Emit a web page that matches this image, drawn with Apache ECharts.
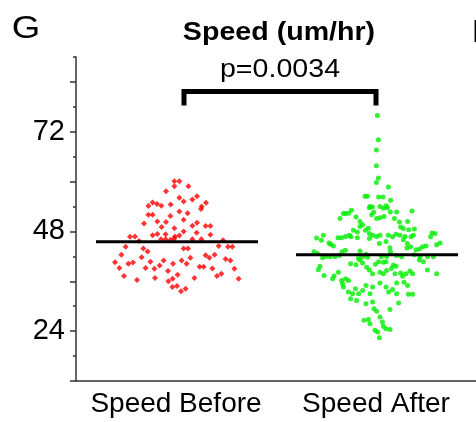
<!DOCTYPE html>
<html><head><meta charset="utf-8">
<script src="https://cdn.jsdelivr.net/npm/echarts@6/dist/echarts.min.js"></script>
<style>html,body{margin:0;padding:0;background:#fff;overflow:hidden}#c{width:476px;height:422px}</style>
</head><body><div id="c"></div>
<script>
// ---- data ----
const categories = ['Speed Before', 'Speed After'];
const chartTitle = 'Speed (um/hr)';
const pValueText = 'p=0.0034';
const panelLetter = 'G';
const yTickLabels = [24, 48, 72];
const yMajorTicks = [12, 24, 36, 48, 60, 72, 84];
const yMinorTicks = [18, 30, 42, 54, 66, 78, 90];
const meanValues = [45.5, 42.4];
// jitter position on a hidden 0..2 axis (category centres at 0.5 and 1.5)
const beforeX = [0.492,0.517,0.492,0.562,0.450,0.517,0.538,0.582,0.605,0.362,0.383,0.405,0.427,0.473,0.650,0.628,0.625,0.362,0.383,0.472,0.517,0.558,0.407,0.450,0.340,0.428,0.538,0.605,0.582,0.648,0.672,0.492,0.407,0.383,0.448,0.495,0.517,0.538,0.603,0.672,0.270,0.295,0.315,0.425,0.448,0.473,0.492,0.582,0.627,0.735,0.248,0.337,0.358,0.538,0.560,0.713,0.760,0.782,0.227,0.328,0.372,0.438,0.528,0.572,0.648,0.667,0.693,0.748,0.772,0.195,0.262,0.285,0.418,0.485,0.553,0.618,0.638,0.217,0.348,0.392,0.682,0.792,0.460,0.508,0.240,0.483,0.462,0.592,0.705,0.727,0.813,0.305,0.395,0.482,0.505,0.548,0.525];
const beforeY = [60.1,60.1,58.9,58.9,57.7,56.1,55.2,55.7,56.5,54.1,55.0,54.6,54.2,54.5,54.9,54.0,53.4,52.0,52.0,51.7,52.8,52.4,50.4,50.3,49.9,49.1,50.8,50.1,49.4,49.3,49.3,48.8,47.4,47.1,47.3,46.8,47.0,48.0,47.7,47.2,46.7,46.8,45.7,46.1,46.1,46.0,46.3,46.1,46.1,45.9,44.3,43.9,43.2,43.9,43.9,44.5,44.3,44.3,42.4,41.8,40.7,41.0,41.0,41.7,42.3,41.7,42.4,41.4,41.0,40.6,40.2,40.5,39.8,40.2,40.2,39.5,39.5,39.2,39.2,39.0,39.1,39.0,38.5,37.6,37.3,36.6,36.0,36.8,37.3,37.8,36.6,36.3,36.8,34.6,34.9,34.2,33.6];
const afterX = [1.507,1.512,1.502,1.502,1.512,1.502,1.562,1.445,1.457,1.513,1.535,1.573,1.470,1.483,1.467,1.520,1.550,1.557,1.537,1.377,1.363,1.337,1.348,1.320,1.400,1.488,1.478,1.572,1.540,1.520,1.503,1.603,1.680,1.592,1.617,1.658,1.420,1.433,1.420,1.462,1.623,1.637,1.663,1.692,1.447,1.467,1.483,1.503,1.520,1.387,1.407,1.367,1.375,1.328,1.310,1.348,1.237,1.203,1.227,1.265,1.287,1.273,1.600,1.620,1.645,1.687,1.675,1.562,1.583,1.467,1.517,1.550,1.570,1.407,1.637,1.657,1.780,1.795,1.773,1.820,1.803,1.750,1.733,1.717,1.700,1.673,1.655,1.190,1.207,1.233,1.250,1.270,1.317,1.295,1.347,1.330,1.420,1.433,1.412,1.450,1.458,1.527,1.553,1.572,1.603,1.628,1.692,1.720,1.758,1.787,1.212,1.220,1.240,1.283,1.290,1.312,1.328,1.333,1.348,1.362,1.373,1.400,1.420,1.433,1.453,1.467,1.483,1.497,1.513,1.537,1.550,1.520,1.553,1.577,1.587,1.600,1.537,1.595,1.623,1.650,1.670,1.683,1.633,1.717,1.737,1.757,1.803,1.337,1.362,1.383,1.373,1.397,1.413,1.433,1.403,1.450,1.470,1.483,1.520,1.550,1.563,1.583,1.603,1.603,1.662,1.683,1.658,1.640,1.483,1.490,1.503,1.450,1.613,1.570,1.520,1.532,1.537,1.440,1.462,1.470,1.495,1.508,1.550,1.570,1.517];
const afterY = [75.9,70.1,67.6,63.8,60.9,59.8,58.7,56.5,56.5,56.3,56.3,55.5,54.0,53.9,53.7,54.0,54.2,53.7,53.6,53.1,52.4,52.3,52.3,51.1,51.5,52.6,52.0,52.7,51.6,51.3,51.1,52.7,52.9,51.1,50.3,50.4,50.4,49.6,49.2,48.8,49.1,48.7,48.4,48.6,48.3,47.5,47.1,46.8,47.1,48.3,47.9,47.1,46.7,46.5,46.5,46.8,47.1,46.4,45.9,45.2,44.5,44.9,47.3,47.1,46.8,47.1,46.7,47.1,46.7,46.3,45.1,45.6,44.1,46.5,46.0,45.1,47.6,47.5,46.7,45.2,44.8,44.5,44.3,43.8,43.6,44.3,44.0,43.1,42.7,41.7,42.0,41.9,42.2,41.9,43.5,43.1,43.3,41.9,41.5,42.5,41.8,41.9,42.0,43.1,42.2,41.9,42.4,41.9,41.9,41.9,38.8,39.6,37.4,36.6,37.3,38.2,36.2,35.4,36.6,36.2,40.2,40.0,41.1,40.4,39.4,38.7,37.8,40.1,40.7,40.6,40.7,38.2,38.6,39.1,39.9,39.6,37.8,37.8,38.0,37.8,38.5,37.8,37.2,41.1,40.7,38.7,37.8,34.6,33.4,33.0,31.8,34.2,33.0,33.8,31.4,35.0,33.0,34.6,35.6,34.6,33.4,34.0,33.0,35.6,32.9,32.9,35.0,35.8,31.0,29.4,28.8,30.6,30.8,29.2,27.4,26.2,25.2,26.6,26.8,25.8,24.2,23.8,24.6,24.4,22.4];

// ---- chart ----
const FONT = "'Liberation Sans', Arial, Helvetica, sans-serif";
const AX = '#333';
const chart = echarts.init(document.getElementById('c'), null, {renderer: 'canvas'});
const zip = (xs, ys) => xs.map((x, i) => [x, ys[i]]);

chart.setOption({
  animation: false,
  backgroundColor: '#fff',
  grid: {left: 76, top: 57, width: 400, bottom: 41, containLabel: false},
  xAxis: [{
    type: 'category', data: categories, boundaryGap: true,
    axisLine: {lineStyle: {color: AX, width: 1.5}},
    axisTick: {alignWithLabel: true, length: 5, lineStyle: {color: AX, width: 1.5}},
    axisLabel: {color: '#000', fontSize: 28, fontFamily: FONT, margin: 9, interval: 0, hideOverlap: false},
    splitLine: {show: false}
  }, {
    type: 'value', min: 0, max: 2, show: false
  }],
  yAxis: [{
    type: 'value', min: 12, max: 90, interval: 12, position: 'left',
    axisLine: {show: true, lineStyle: {color: AX, width: 1.5}},
    axisTick: {show: true, length: 6, customValues: yMajorTicks, lineStyle: {color: AX, width: 1.5}},
    axisLabel: {color: '#000', fontSize: 29, fontFamily: FONT, margin: 11,
      customValues: yTickLabels,
      formatter: v => (yTickLabels.indexOf(v) >= 0 ? String(v) : '')},
    splitLine: {show: false}
  }, {
    type: 'value', min: 12, max: 90, interval: 6, position: 'left', offset: 0,
    axisLine: {show: false},
    axisTick: {show: true, length: 3, customValues: yMinorTicks, lineStyle: {color: AX, width: 1.5}},
    axisLabel: {show: false},
    splitLine: {show: false}
  }],
  series: [{
    name: 'Speed Before', type: 'scatter', xAxisIndex: 1, yAxisIndex: 0,
    symbol: 'diamond', symbolSize: 6,
    itemStyle: {color: '#ff0000'},
    data: zip(beforeX, beforeY), z: 2
  }, {
    name: 'Speed After', type: 'scatter', xAxisIndex: 1, yAxisIndex: 0,
    symbol: 'circle', symbolSize: 5,
    itemStyle: {color: '#00ee00'},
    data: zip(afterX, afterY), z: 2
  }, {
    name: 'Mean', type: 'custom', xAxisIndex: 0, yAxisIndex: 0, z: 5,
    data: meanValues.map((v, i) => [i, v]),
    renderItem: function (params, api) {
      const c = api.coord([api.value(0), api.value(1)]);
      const w = api.size([1, 0])[0];
      return {type: 'line',
        shape: {x1: c[0] - w * 0.4, y1: c[1], x2: c[0] + w * 0.41, y2: c[1]},
        style: {stroke: '#000', lineWidth: 3}};
    }
  }]
});

// annotations: title, p-value bracket, panel letters
const bx0 = chart.convertToPixel({xAxisIndex: 1}, 0.54);
const bx1 = chart.convertToPixel({xAxisIndex: 1}, 1.5);
const byTop = chart.convertToPixel({yAxisIndex: 0}, 81.7);
const byBot = chart.convertToPixel({yAxisIndex: 0}, 78.3);
chart.setOption({
  graphic: [
    {type: 'text', x: 26, y: 29.5, scaleX: 1.18, z: 10,
      style: {text: panelLetter, font: '31px ' + FONT, fill: '#000', textAlign: 'center', textVerticalAlign: 'middle'}},
    {type: 'text', x: 472, y: 33, z: 10,
      style: {text: 'H', font: '31px ' + FONT, fill: '#000', textAlign: 'left', textVerticalAlign: 'middle'}},
    {type: 'text', x: 279, y: 32.5, scaleX: 1.1, z: 10,
      style: {text: chartTitle, font: 'bold 26px ' + FONT, fill: '#000', textAlign: 'center', textVerticalAlign: 'middle'}},
    {type: 'text', x: 280, y: 69.5, scaleX: 1.1, z: 10,
      style: {text: pValueText, font: '26px ' + FONT, fill: '#000', textAlign: 'center', textVerticalAlign: 'middle'}},
    {type: 'polyline', z: 10,
      shape: {points: [[bx0, byBot], [bx0, byTop], [bx1, byTop], [bx1, byBot]]},
      style: {stroke: '#000', lineWidth: 5, fill: null, lineJoin: 'miter', lineCap: 'butt'}}
  ]
});
</script>
</body></html>
